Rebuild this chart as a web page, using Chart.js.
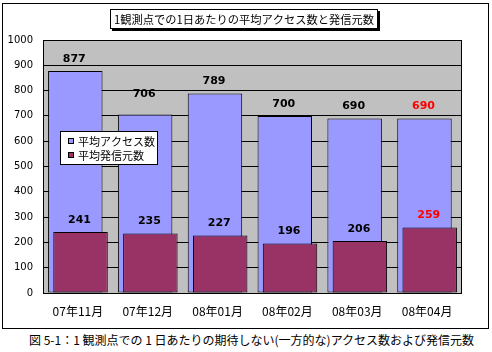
<!DOCTYPE html>
<html>
<head>
<meta charset="utf-8">
<script src="https://cdn.jsdelivr.net/npm/chart.js@4/dist/chart.umd.min.js"></script>
<style>
  body { margin: 0; background: #fff; width: 492px; height: 352px; overflow: hidden; position: relative; }
  #frame { position: absolute; left: 2px; top: 3px; width: 485px; height: 324px; border: 1px solid #000; }
  #frame canvas { display: block; }
  #caption { position: absolute; left: 29px; top: 332px; white-space: nowrap;
             font-family: 'Noto Sans CJK JP', sans-serif; font-size: 12px; line-height: 16px; color: #000; }
</style>
</head>
<body>
<div id="frame"><canvas id="chart" width="485" height="324"></canvas></div>
<div id="caption">図 5-1：1 観測点での 1 日あたりの期待しない(一方的な)アクセス数および発信元数</div>
<script>
const months = ['07年11月', '07年12月', '08年01月', '08年02月', '08年03月', '08年04月'];
const avgAccess = [877, 706, 789, 700, 690, 690];
const avgSources = [241, 235, 227, 196, 206, 259];
const yMax = 1000;
const yStep = 100;

const titleText = '1観測点での1日あたりの平均アクセス数と発信元数';
const highlightIndex = 5;               // latest month gets red labels
const accessLabelLift = [0, 8, 0, 0, 0, 0];  // 706 label sits a bit higher
const jp = "'Noto Sans CJK JP', sans-serif";

// gray plot area + frame around it
const plotFrame = {
  id: 'plotFrame',
  beforeDraw(chart) {
    const { ctx, chartArea: a } = chart;
    ctx.save();
    ctx.fillStyle = '#c0c0c0';
    ctx.fillRect(a.left, a.top, a.width, a.height);
    ctx.restore();
  },
  afterDraw(chart) {
    const { ctx, chartArea: a } = chart;
    ctx.save();
    ctx.strokeStyle = '#000';
    ctx.lineWidth = 1;
    ctx.strokeRect(Math.round(a.left) + 0.5, Math.round(a.top) + 0.5,
                   Math.round(a.width) - 1, Math.round(a.height));
    ctx.restore();
  }
};

// maroon bars sit in front of the blue ones, then value labels
const barsAndLabels = {
  id: 'barsAndLabels',
  beforeDatasetDraw(chart, args) {
    if (args.index === 1) return false;
  },
  afterDatasetsDraw(chart) {
    const ctx = chart.ctx;
    chart.getDatasetMeta(1).controller.draw();
    ctx.save();
    ctx.font = "bold 11px 'DejaVu Sans', sans-serif";
    ctx.textAlign = 'center';
    ctx.textBaseline = 'middle';
    [0, 1].forEach(di => {
      const meta = chart.getDatasetMeta(di);
      const values = chart.data.datasets[di].data;
      meta.data.forEach((bar, i) => {
        const lift = di === 0 ? accessLabelLift[i] : 0;
        ctx.fillStyle = i === highlightIndex ? '#ff0000' : '#000';
        ctx.fillText(String(values[i]), bar.x - 1, bar.y - 12 - lift);
      });
    });
    ctx.restore();
  }
};

// boxed title with drop shadow, and the boxed legend inside the plot
const boxes = {
  id: 'boxes',
  afterDraw(chart) {
    const { ctx, chartArea: a } = chart;
    ctx.save();
    // title
    const tx = 107, ty = 5, tw = 268, th = 20;
    ctx.fillStyle = '#000';
    ctx.fillRect(tx + 2, ty + 2, tw, th);
    ctx.fillStyle = '#fff';
    ctx.fillRect(tx, ty, tw, th);
    ctx.strokeStyle = '#000';
    ctx.lineWidth = 1;
    ctx.strokeRect(tx + 0.5, ty + 0.5, tw - 1, th - 1);
    ctx.fillStyle = '#000';
    ctx.font = '11.25px ' + jp;
    ctx.textAlign = 'center';
    ctx.textBaseline = 'middle';
    ctx.fillText(titleText, tx + tw / 2, ty + th / 2 + 0.5);

    // legend
    const lx = Math.round(a.left) + 17, ly = Math.round(a.top) + 91, lw = 98, lh = 34;
    ctx.fillStyle = '#fff';
    ctx.fillRect(lx, ly, lw, lh);
    ctx.strokeRect(lx + 0.5, ly + 0.5, lw - 1, lh - 1);
    ctx.font = '11px ' + jp;
    ctx.textAlign = 'left';
    chart.data.datasets.forEach((ds, i) => {
      const rowY = ly + 10 + i * 14;
      ctx.fillStyle = ds.backgroundColor;
      ctx.fillRect(lx + 8, rowY - 3, 6, 6);
      ctx.strokeRect(lx + 8.5, rowY - 2.5, 5, 5);
      ctx.fillStyle = '#000';
      ctx.fillText(ds.label, lx + 18, rowY + 0.5);
    });
    ctx.restore();
  }
};

new Chart(document.getElementById('chart'), {
  type: 'bar',
  data: {
    labels: months,
    datasets: [{
      label: '平均アクセス数',
      data: avgAccess,
      backgroundColor: '#9999ff',
      borderColor: '#000',
      borderWidth: 1,
      borderSkipped: false
    }, {
      label: '平均発信元数',
      data: avgSources,
      backgroundColor: '#993366',
      borderColor: '#000',
      borderWidth: 1,
      borderSkipped: false
    }]
  },
  options: {
    responsive: false,
    animation: false,
    devicePixelRatio: 1,
    categoryPercentage: 0.15,
    barPercentage: 10.4,
    layout: { padding: { top: 36, right: 26, bottom: 0, left: 0 } },
    plugins: {
      legend: { display: false },
      tooltip: { enabled: false },
      title: { display: false }
    },
    scales: {
      x: {
        grid: { display: false, drawTicks: false },
        border: { display: false },
        ticks: { color: '#000', font: { family: jp, size: 12 }, padding: 11, maxRotation: 0 },
        afterFit(s) { s.height = 35; }
      },
      y: {
        min: 0,
        max: yMax,
        grid: { color: '#000', drawTicks: false },
        border: { display: false },
        ticks: {
          stepSize: yStep,
          color: '#000',
          font: { family: "'DejaVu Sans', sans-serif", size: 10 },
          padding: 10,
          callback: v => String(v)
        },
        afterFit(s) { s.width = 40; }
      }
    }
  },
  plugins: [plotFrame, barsAndLabels, boxes]
});
</script>
</body>
</html>
